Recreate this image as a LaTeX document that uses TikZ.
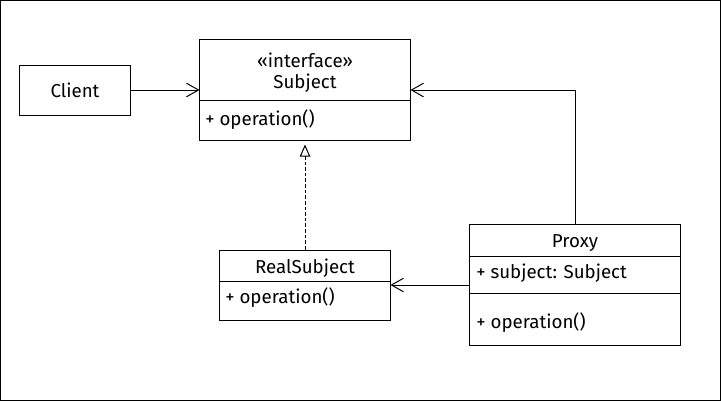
\documentclass[tikz,border=0pt]{standalone}
\usepackage{fontspec}
\setmainfont{Fira Sans}
\usetikzlibrary{arrows.meta}
\tikzset{
	cls/.style={draw, line width=.7pt, inner sep=0pt},
	assoc/.style={line width=.7pt, -{Straight Barb[length=3mm,width=3.4mm]}},
	realize/.style={line width=.7pt, dash pattern=on 2.5pt off 1.5pt, -{Triangle[open,length=3mm,width=2.6mm]}, shorten >=1mm},
	txt/.style={font=\fontsize{13.3}{15}\selectfont, inner sep=0pt}
}
\begin{document}
\begin{tikzpicture}[x=0.025cm,y=-0.025cm]
			\useasboundingbox (0,0) rectangle (721,401);
			\draw[line width=.7pt] (.5,.5) rectangle (720,400);
			\node[cls, minimum width=2.75cm, minimum height=1.25cm] (client) at (75,90) {};
			\node[txt] (clientname) at (75,90) {Client};
			\node[cls, minimum width=5.25cm, minimum height=2.5cm] (subject) at (305,90) {};
			\draw[line width=.7pt] (200,100) -- (410,100);
			\node[txt] (stereo) at (305,60) {«interface»};
			\node[txt] (subjectname) at (305,83) {Subject};
			\node[txt, anchor=west] (subjectop) at (205,120) {+ operation()};
			\node[cls, minimum width=4.25cm, minimum height=1.75cm] (real) at (305,285) {};
			\draw[line width=.7pt] (220,281) -- (390,281);
			\node[txt] (realname) at (305,268) {RealSubject};
			\node[txt, anchor=west] (realop) at (225,298) {+ operation()};
			\node[cls, minimum width=5.25cm, minimum height=3cm] (proxy) at (575,285) {};
			\draw[line width=.7pt] (470,256) -- (680,256) (470,293) -- (680,293);
			\node[txt] (proxyname) at (575,243) {Proxy};
			\node[txt, anchor=west] (proxyattr) at (476,273) {+ subject: Subject};
			\node[txt, anchor=west] (proxyop) at (476,323) {+ operation()};
			%	connectors
			\draw[assoc] (client.east) -- (subject.west);
			\draw[realize] (real.north) -- (subject.south);
			\draw[assoc] (proxy.north) |- (subject.east);
			\draw[assoc] (proxy.west) -- (real.east);
		\end{tikzpicture}
\end{document}
